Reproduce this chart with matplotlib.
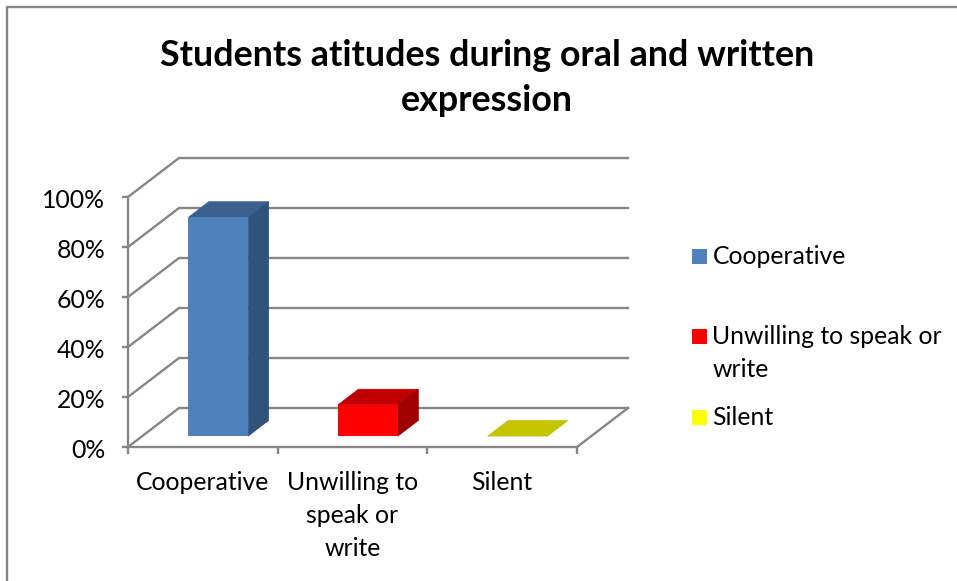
import matplotlib
matplotlib.use('Agg')
import matplotlib.pyplot as plt
from matplotlib.lines import Line2D
from matplotlib.patches import Polygon, Rectangle
from matplotlib.transforms import ScaledTranslation

# data
categories = ['Cooperative', 'Unwilling to\nspeak or\nwrite', 'Silent']
legend_labels = ['Cooperative', 'Unwilling to speak or\nwrite', 'Silent']
values = [87.5, 12.5, 0]
yticks = [0, 20, 40, 60, 80, 100]
title = 'Students atitudes during oral and written\nexpression'

front = ['#4F81BD', '#FF0000', '#FFFF00']
top = ['#3A6190', '#C00000', '#C4C400']
side = ['#31527A', '#A00000', '#A0A000']
gray = '#868686'
lw = 1.7

W, H = 957, 581
plt.rcParams['font.family'] = ['Lato', 'DejaVu Sans']
fig = plt.figure(figsize=(W / 100, H / 100), dpi=100)

# axes box is the front plane of the fake 3d chart
x0, x1, y0, y1 = 128, 577, 447, 197
ax = fig.add_axes([x0 / W, 1 - y0 / H, (x1 - x0) / W, (y0 - y1) / H])
ax.set_xlim(0, 3)
ax.set_ylim(0, 100)
ax.patch.set_visible(False)

# depth of the floor in data units
dx = 51 / 149.67
dy = 39 / 2.5
bar_w = 0.4
d0, d1 = 0.28, 0.68  # where the bars start and stop in the depth

# walls
for t in yticks:
    ax.plot([0, dx, 3 + dx], [t, t + dy, t + dy], color=gray, lw=lw, clip_on=False, zorder=1, solid_joinstyle='miter')
ax.plot([3, 3 + dx], [0, dy], color=gray, lw=lw, clip_on=False, zorder=1)

# bars
for i, v in enumerate(values):
    x = i + 0.5 - bar_w / 2 + d0 * dx + 0.008
    b = d0 * dy
    ddx = (d1 - d0) * dx
    ddy = (d1 - d0) * dy
    ax.add_patch(Polygon([(x, b + v), (x + bar_w, b + v), (x + bar_w + ddx, b + v + ddy), (x + ddx, b + v + ddy)],
                         fc=top[i], ec=top[i], lw=0.5, clip_on=False, zorder=3))
    if v > 0:
        ax.add_patch(Polygon([(x + bar_w, b), (x + bar_w + ddx, b + ddy), (x + bar_w + ddx, b + v + ddy), (x + bar_w, b + v)],
                             fc=side[i], ec=side[i], lw=0.5, clip_on=False, zorder=3))
        ax.bar(x, v, bar_w, bottom=b, align='edge', color=front[i], clip_on=False, zorder=4)

# axes
for s in ['top', 'right']:
    ax.spines[s].set_visible(False)
for s in ['left', 'bottom']:
    ax.spines[s].set_color(gray)
    ax.spines[s].set_linewidth(lw)
ax.set_yticks(yticks)
ax.set_yticklabels([f'{t}%' for t in yticks])
ax.set_xticks([0, 1, 2, 3])
ax.set_xticklabels([])
ax.tick_params(axis='y', color=gray, width=lw, length=4.5, labelsize=17.8, pad=12, labelcolor='black')
ax.tick_params(axis='x', color=gray, width=lw, length=5)
# ticks labels sit a bit lower than centre in the original
for lbl in ax.get_yticklabels():
    lbl.set_transform(lbl.get_transform() + ScaledTranslation(0, -1.5 / 100, fig.dpi_scale_trans))
for i, c in enumerate(categories):
    fig.text((203 + i * 149.5) / W, 1 - 471 / H, c, ha='center', va='top', fontsize=17.8, linespacing=1.53)

# title
fig.text(487 / W, 1 - 39.5 / H, title, ha='center', va='top', fontsize=25.8, fontweight='bold', linespacing=1.41)

# legend
leg_y = [249, 329, 410]
for i, lab in enumerate(legend_labels):
    fig.add_artist(Rectangle((692 / W, 1 - (leg_y[i] + 15) / H), 15 / W, 15 / H, fc=front[i], ec='none', transform=fig.transFigure))
    fig.text(712.5 / W, 1 - (leg_y[i] - 4) / H, lab, ha='left', va='top', fontsize=17.8, linespacing=1.55)

# outer frame, only left and top are in the crop
fig.add_artist(Line2D([7.5 / W, 7.5 / W, 1], [0, 1 - 7 / H, 1 - 7 / H], color=gray, lw=lw, transform=fig.transFigure))

fig.savefig('out.png', dpi=100)
